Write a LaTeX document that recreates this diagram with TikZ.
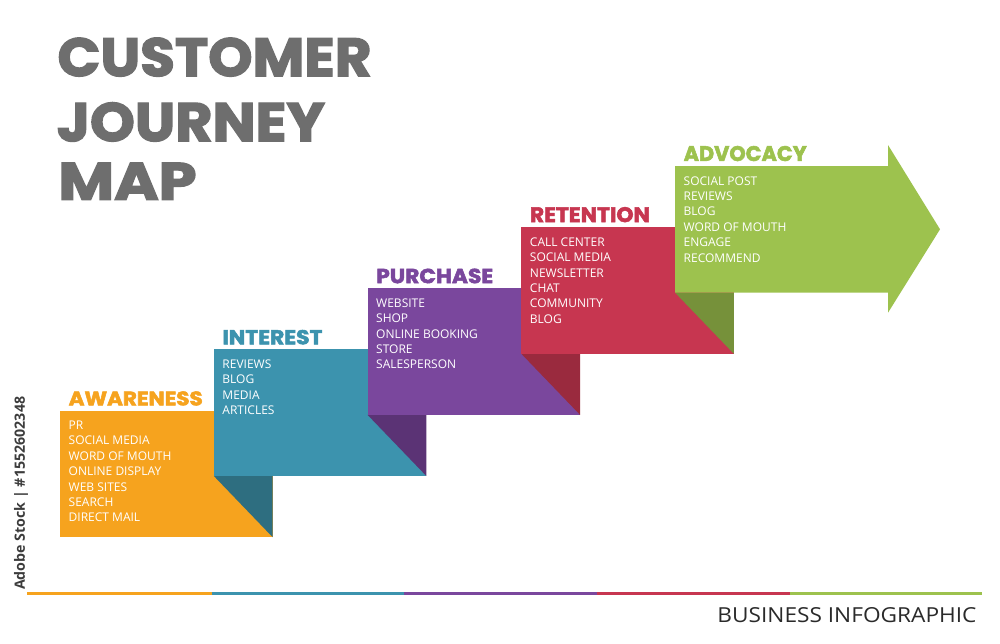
\documentclass[tikz,border=0pt]{standalone}
\usepackage{fontspec}
\usepackage{graphicx}
\setmainfont{Open Sans}
\newfontfamily\heavyfont{Poppins}[BoldFeatures={FakeBold=2.5}]
\newfontfamily\itemfont{Open Sans}
\newfontfamily\thinfont{Open Sans}
\definecolor{cOr}{HTML}{F6A31E}
\definecolor{cTe}{HTML}{3C93AE}
\definecolor{cPu}{HTML}{7A479D}
\definecolor{cRe}{HTML}{C73650}
\definecolor{cGr}{HTML}{9DC24E}
\definecolor{dTe}{HTML}{2E6E80}
\definecolor{dPu}{HTML}{5B3375}
\definecolor{dRe}{HTML}{9A2A3E}
\definecolor{dGr}{HTML}{76913A}
\definecolor{cTitle}{HTML}{6E6E6E}
\definecolor{cFoot}{HTML}{2A2A2A}
\definecolor{cMark}{HTML}{3C3C3C}
\begin{document}
\begin{tikzpicture}[x=1pt,y=-1pt,
  itemtxt/.style={text=white,font=\itemfont\fontsize{12}{14}\selectfont,inner sep=0pt,anchor=base west},
  headtxt/.style={inner sep=0pt,anchor=south west},
  titletxt/.style={inner sep=0pt,anchor=south west,text=cTitle},
  baseline/.style={line width=2.5pt}]
\useasboundingbox (0,0) rectangle (1000,643);
\fill[white] (0,0) rectangle (1000,643);

% boxes and folds
\fill[cOr] (60,410.5) rectangle (272.5,537);
\fill[dTe] (213.75,475.9) -- (272.5,475.9) -- (272.5,537) -- cycle;
\fill[cTe] (213.75,349.4) rectangle (426.25,475.9);
\fill[dPu] (367.5,414.8) -- (426.25,414.8) -- (426.25,475.9) -- cycle;
\fill[cPu] (367.5,288.3) rectangle (580,414.8);
\fill[dRe] (521.25,353.7) -- (580,353.7) -- (580,414.8) -- cycle;
\fill[cRe] (521.25,227.2) rectangle (733.75,353.7);
\fill[dGr] (675,292.6) -- (733.75,292.6) -- (733.75,353.7) -- cycle;
\fill[cGr] (675,166.1) -- (888,166.1) -- (888,145) -- (940,229.3) -- (888,312.7) -- (888,292.6) -- (675,292.6) -- cycle;

% title
\node[titletxt] (t1) at (57.3,76.7) {\resizebox{314pt}{38.4pt}{\heavyfont\bfseries CUSTOMER}};
\node[titletxt] (t2) at (56.7,141.7) {\resizebox{268pt}{38.7pt}{\heavyfont\bfseries JOURNEY}};
\node[titletxt] (t3) at (58.3,200) {\resizebox{138pt}{37pt}{\heavyfont\bfseries MAP}};

% headings
\node[headtxt,text=cOr] (h1) at (68.5,405.7) {\resizebox{134pt}{14pt}{\heavyfont\bfseries AWARENESS}};
\node[headtxt,text=cTe] (h2) at (222.25,344.6) {\resizebox{100pt}{14.3pt}{\heavyfont\bfseries INTEREST}};
\node[headtxt,text=cPu] (h3) at (376,283.5) {\resizebox{117pt}{14.5pt}{\heavyfont\bfseries PURCHASE}};
\node[headtxt,text=cRe] (h4) at (529.75,222.4) {\resizebox{120pt}{15pt}{\heavyfont\bfseries RETENTION}};
\node[headtxt,text=cGr] (h5) at (683.5,161.3) {\resizebox{123pt}{15pt}{\heavyfont\bfseries ADVOCACY}};

% items
\foreach \t [count=\i from 0] in {PR,SOCIAL MEDIA,WORD OF MOUTH,ONLINE DISPLAY,WEB SITES,SEARCH,DIRECT MAIL}
  \node[itemtxt] (a\i) at (68.5,{429.5+\i*15.4}) {\t};
\foreach \t [count=\i from 0] in {REVIEWS,BLOG,MEDIA,ARTICLES}
  \node[itemtxt] (b\i) at (222.25,{368.4+\i*15.4}) {\t};
\foreach \t [count=\i from 0] in {WEBSITE,SHOP,ONLINE BOOKING,STORE,SALESPERSON}
  \node[itemtxt] (c\i) at (376,{307.3+\i*15.4}) {\t};
\foreach \t [count=\i from 0] in {CALL CENTER,SOCIAL MEDIA,NEWSLETTER,CHAT,COMMUNITY,BLOG}
  \node[itemtxt] (d\i) at (529.75,{246.2+\i*15.4}) {\t};
\foreach \t [count=\i from 0] in {SOCIAL POST,REVIEWS,BLOG,WORD OF MOUTH,ENGAGE,RECOMMEND}
  \node[itemtxt] (e\i) at (683.5,{185.1+\i*15.4}) {\t};

% bottom rule
\draw[baseline,cOr] (27,593.5) -- (211.5,593.5);
\draw[baseline,cTe] (211.5,593.5) -- (404,593.5);
\draw[baseline,cPu] (404,593.5) -- (597,593.5);
\draw[baseline,cRe] (597,593.5) -- (790,593.5);
\draw[baseline,cGr] (790,593.5) -- (982,593.5);

\node[inner sep=0pt,anchor=south east,text=cFoot] (foot) at (976.7,623) {\resizebox{259pt}{15pt}{\thinfont BUSINESS INFOGRAPHIC}};

\node[inner sep=0pt,rotate=90,anchor=west,text=cMark] (mark) at (21,590) {\resizebox{193pt}{!}{\fontsize{15}{15}\selectfont\bfseries Adobe Stock | \#1552602348}};
\end{tikzpicture}
\end{document}
